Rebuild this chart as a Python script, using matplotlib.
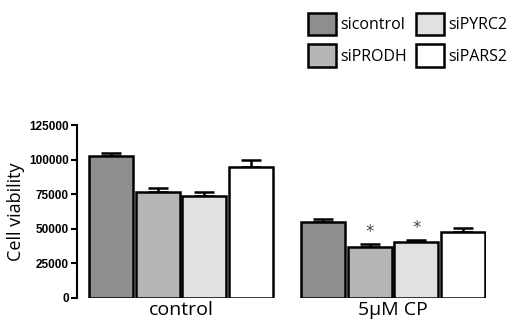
import matplotlib
matplotlib.use("Agg")
import matplotlib.pyplot as plt
from matplotlib.patches import Patch

groups = ["control", "5\u03bcM CP"]
series = ["sicontrol", "siPRODH", "siPYRC2", "siPARS2"]
colors = ["#8e8e8e", "#b6b6b6", "#e1e1e1", "#ffffff"]
values = {
    "sicontrol": [102600, 54900],
    "siPRODH": [76600, 36800],
    "siPYRC2": [73700, 40500],
    "siPARS2": [94700, 47700],
}
errors = {
    "sicontrol": [2500, 2000],
    "siPRODH": [3000, 2500],
    "siPYRC2": [3000, 1500],
    "siPARS2": [5000, 3000],
}
stars = {"siPRODH": [False, True], "siPYRC2": [False, True]}
yticks = [0, 25000, 50000, 75000, 100000, 125000]

fig = plt.figure(figsize=(5.18, 3.23), dpi=100)
ax = fig.add_axes([77 / 518, 25 / 323, 409 / 518, 173 / 323])

group_gap = 0.56
for gi, g in enumerate(groups):
    base = gi * (4 + group_gap)
    for si, s in enumerate(series):
        x = base + si
        v = values[s][gi]
        e = errors[s][gi]
        ax.bar(x, v, width=0.95, color=colors[si], edgecolor="black",
               linewidth=1.8, zorder=2)
        ax.errorbar(x, v, yerr=[[0], [e]], fmt="none", ecolor="black",
                    elinewidth=1.8, capsize=7, capthick=1.8, zorder=1)
        if s in stars and stars[s][gi]:
            ax.text(x, v + e + 2000, "*", ha="center", va="bottom",
                    fontsize=12, color="#444444", family="DejaVu Sans")
    ax.text(base + 1.5, -2500, g, ha="center", va="top", fontsize=14,
            family="Open Sans", transform=ax.transData)

ax.set_xlim(-0.737, 8.06)
ax.set_ylim(0, 125000)
ax.set_yticks(yticks)
ax.set_yticklabels([str(t) for t in yticks], fontsize=8.5, fontweight="bold",
                   family="Liberation Sans")
ax.set_xticks([])
for sp in ["top", "right", "bottom"]:
    ax.spines[sp].set_visible(False)
ax.spines["left"].set_linewidth(1.5)
ax.tick_params(axis="y", width=1.5, length=4, pad=2)
ax.set_ylabel("Cell viability", fontsize=13, family="Open Sans", labelpad=3)

handles = [Patch(facecolor=c, edgecolor="black", linewidth=1.8, label=s)
           for s, c in zip(series, colors)]
fig.legend(handles=handles, ncol=2, loc="upper right",
           bbox_to_anchor=(1.005, 1.0), frameon=False,
           prop={"family": "Open Sans", "size": 11.5},
           handlelength=1.75, handleheight=1.75, columnspacing=0.55,
           handletextpad=0.3, labelspacing=0.6, borderpad=0.3)

fig.savefig("out.png", dpi=100)
